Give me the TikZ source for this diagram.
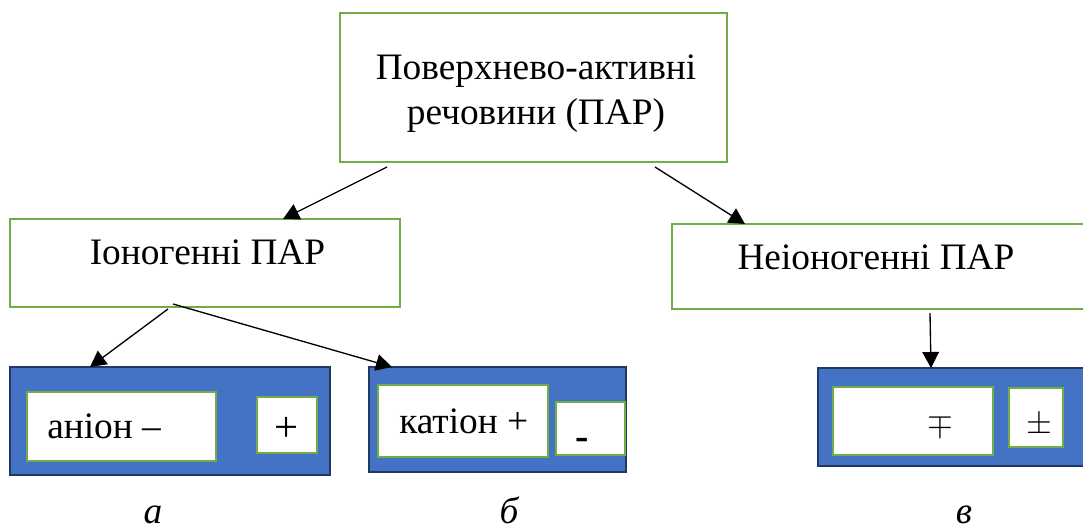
\documentclass[tikz,border=0pt]{standalone}
\usepackage{fontspec}
\setmainfont{Liberation Serif}
\usetikzlibrary{arrows.meta,calc}

\definecolor{boxgreen}{HTML}{70AD47}
\definecolor{ionblue}{HTML}{4472C4}
\definecolor{iondark}{HTML}{1F3864}

\tikzset{
  size/.style 2 args={minimum width=#1*0.75pt, minimum height=#2*0.75pt},
  greenbox/.style={draw=boxgreen, line width=2.2pt, fill=white, inner sep=0pt, outer sep=0pt},
  bluebox/.style={draw=iondark, line width=2pt, fill=ionblue, inner sep=0pt, outer sep=0pt},
  label/.style={anchor=base, inner sep=0pt, font=\fontsize{28}{34}\selectfont},
  sublabel/.style={anchor=base, inner sep=0pt, font=\fontsize{28}{34}\selectfont\itshape},
  link/.style={line width=1pt, -{Triangle[length=12pt,width=12.5pt]}},
}

\begin{document}
\begin{tikzpicture}[x=0.75pt, y=-0.75pt]
\useasboundingbox (0,0) rectangle (1083,531);
\clip (0,0) rectangle (1083,531);

% top level
\node[greenbox, size={387}{149}] (top) at (533.5,87.5) {};
\node[label] (topl1) at (536,80) {Поверхнево-активні};
\node[label] (topl2) at (536,125) {речовини (ПАР)};

% second level
\node[greenbox, size={390}{88}] (ion) at (205,263) {};
\node[label] (ionl) at (207.5,265) {Іоногенні ПАР};
\node[greenbox, size={423}{85}] (nonion) at (883.5,266.5) {};
\node[label] (nonionl) at (876,270) {Неіоногенні ПАР};

% molecule sketches
\node[bluebox, size={320}{108}] (a) at (170,421) {};
\node[greenbox, size={189}{69}] (aa) at (121.5,426.5) {};
\node[label, anchor=base west] (aal) at (47,438) {аніон –};
\node[greenbox, size={60}{56}] (ab) at (287,425) {};
\node[label, font=\fontsize{32}{34}\selectfont] (abl) at (287,441) {+};

\node[bluebox, size={257}{105}] (b) at (497.5,419.5) {};
\node[greenbox, size={170}{72}] (ba) at (463,421) {};
\node[label, anchor=base west] (bal) at (399,433) {катіон +};
\node[greenbox, size={69}{53}] (bb) at (590.5,428.5) {};
\node[label, font=\fontsize{30}{34}\selectfont\bfseries] (bbl) at (582,449) {-};

\node[bluebox, size={280}{98}] (c) at (958,417) {};
\node[greenbox, size={160}{68}] (ca) at (913,421) {};
\node[label, font=\fontsize{25}{30}\selectfont] (cal) at (940,433) {$\mp$};
\node[greenbox, size={54}{59}] (cb) at (1036,417.5) {};
\node[label, font=\fontsize{25}{30}\selectfont] (cbl) at (1039,433) {$\pm$};

% captions
\node[sublabel] (capa) at (153,523) {а};
\node[sublabel] (capb) at (509,523) {б};
\node[sublabel] (capc) at (964,523) {в};

% connectors
\draw[link] ($(top.south west)+(47,5)$) -- ($(ion.north west)+(273,0)$);
\draw[link] ($(top.south west)+(315,5)$) -- ($(nonion.north west)+(73,0)$);
\draw[link] ($(ion.south west)+(158,2)$) -- ($(a.north west)+(80,0)$);
\draw[link] ($(ion.south west)+(163,-3)$) -- ($(b.north west)+(23,0)$);
\draw[link] ($(nonion.south west)+(258,4)$) -- ($(c.north west)+(113,0)$);
\end{tikzpicture}
\end{document}
